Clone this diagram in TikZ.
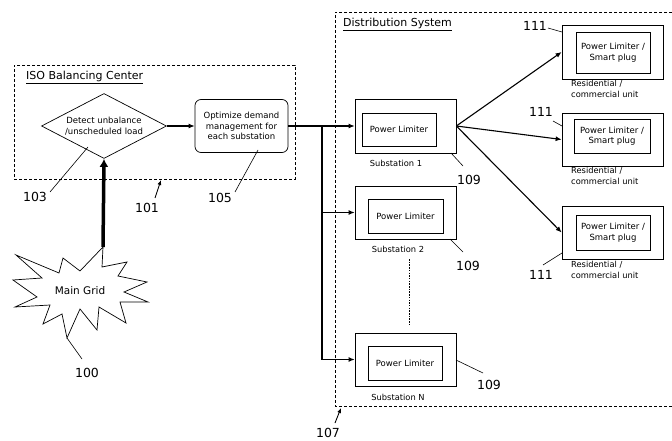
\documentclass[tikz,border=0pt]{standalone}
\usepackage{fontspec}
\setmainfont{DejaVu Sans}
\usetikzlibrary{arrows.meta,shapes.geometric}
\tikzstyle{box}=[draw,line width=0.7pt,inner sep=0pt,font=\fontsize{8.5}{10.5}\selectfont,align=center]
\tikzstyle{station}=[box,minimum width=101pt,minimum height=53pt]
\tikzstyle{limiter}=[box,minimum width=74pt,minimum height=34pt]
\tikzstyle{sublabel}=[inner sep=0pt,font=\fontsize{8.3}{10.5}\selectfont,align=left]
\tikzstyle{refnum}=[inner sep=0pt,font=\fontsize{12.5}{14}\selectfont]
\tikzstyle{heading}=[inner sep=0pt,font=\fontsize{11}{13}\selectfont]
\tikzstyle{region}=[draw,line width=0.6pt,dash pattern=on 3pt off 2pt,inner sep=0pt]
\tikzstyle{edge}=[draw,line width=1.1pt,-{Latex[length=6pt,width=5pt]}]
\tikzstyle{lead}=[draw,line width=0.6pt]
\tikzstyle{pointer}=[draw,line width=0.9pt,-{Latex[length=5pt,width=4pt]}]

\begin{document}
\begin{tikzpicture}[x=1pt,y=-1pt]
\useasboundingbox (0,0) rectangle (672,441);

% ISO balancing center
\node[region,minimum width=281pt,minimum height=114pt] (iso) at (154.5,122) {};
\node[heading,anchor=west] (isotitle) at (26,77) {\underline{ISO Balancing Center}};
\node[box,diamond,shape aspect=2,minimum width=125pt,minimum height=65pt] (detect) at (104,126) {Detect unbalance\\/unscheduled load};
\node[box,rounded corners=6pt,minimum width=93pt,minimum height=53pt] (opt) at (241.5,126) {Optimize demand\\management for\\each substation};
\path[edge] (detect.east) -- (opt.west);

% main grid
\draw[line width=0.7pt] (103,247) -- (102,267) -- (127,262) -- (118,276) -- (147,282)
  -- (124,292) -- (148,302) -- (120,302) -- (126,323) -- (99,307) -- (97,330)
  -- (80,309) -- (67,338) -- (62,314) -- (43,324) -- (50,305) -- (15,307)
  -- (37,297) -- (13,280) -- (42,278) -- (16,255) -- (59,273) -- (63,258)
  -- (80,271) -- cycle;
\coordinate (gridtop) at (103,247);
\node[inner sep=0pt,font=\fontsize{10.5}{12}\selectfont] (grid) at (80,291) {Main Grid};
\path[draw,line width=3.5pt,-{Latex[length=8pt,width=9pt]}] (gridtop) -- (detect.south);

% distribution system
\draw[region] (672,12) -- (335,12) -- (335,406) -- (672,406);
\node[heading,anchor=west] (dstitle) at (343,24) {\underline{Distribution System}};

\node[station,minimum height=54pt] (sub1) at (405.5,126) {};
\node[limiter,minimum height=33pt] (pl1) at (399,129.5) {Power Limiter};
\node[sublabel] (s1name) at (396,163) {Substation 1};

\node[station] (sub2) at (405.5,212.5) {};
\node[limiter,minimum width=75pt] (pl2) at (405.5,216) {Power Limiter};
\node[sublabel] (s2name) at (398,249) {Substation 2};

\node[station] (subN) at (405.5,359.5) {};
\node[limiter] (plN) at (405,363) {Power Limiter};
\node[sublabel] (sNname) at (398,397) {Substation N};

\coordinate (dots1) at (409,259);
\coordinate (dots2) at (409,326);
\draw[line width=0.6pt,dash pattern=on 1.5pt off 1.2pt] (dots1) -- (dots2);

% feeders
\coordinate (split) at (322,126);
\path[edge] (opt.east) -- (sub1.west);
\draw[line width=1.1pt] (split) -- (split |- subN.west);
\path[edge] (split |- sub2.west) -- (sub2.west);
\path[edge] (split |- subN.west) -- (subN.west);

% residential / commercial units
\node[station,minimum height=54pt] (res1) at (612.5,52) {};
\node[limiter,minimum height=41pt] (plug1) at (613,52.5) {Power Limiter /\\Smart plug};
\node[sublabel,anchor=north west] (r1name) at (571,80) {Residential /\\commercial unit};

\node[station] (res2) at (612.5,139.5) {};
\node[limiter,minimum width=76pt] (plug2) at (612,136) {Power Limiter /\\Smart plug};
\node[sublabel,anchor=north west] (r2name) at (571,167) {Residential /\\commercial unit};

\node[station] (res3) at (612.5,232.5) {};
\node[limiter,minimum height=35pt] (plug3) at (613,232.5) {Power Limiter /\\Smart plug};
\node[sublabel,anchor=north west] (r3name) at (571,261) {Residential /\\commercial unit};

\path[edge] (sub1.east) -- (res1.west);
\path[edge] (sub1.east) -- (res2.west);
\path[edge] (sub1.east) -- (res3.west);

% reference numerals
\node[refnum] (n100) at (87,373) {100};
\coordinate (p100) at (67,338);
\coordinate (e100) at (82,359);
\path[lead] (p100) -- (e100);

\node[refnum] (n101) at (147,208) {101};
\coordinate (p101) at (161,180);
\coordinate (e101) at (155,198);
\path[pointer] (e101) -- (p101);

\node[refnum] (n103) at (35,197) {103};
\coordinate (p103) at (88,147);
\coordinate (e103) at (50,192);
\path[lead] (p103) -- (e103);

\node[refnum] (n105) at (220,198) {105};
\coordinate (p105) at (258,150);
\coordinate (e105) at (235,192);
\path[lead] (p105) -- (e105);

\node[refnum] (n107) at (328,433) {107};
\coordinate (p107) at (341,408);
\coordinate (e107) at (335,423);
\path[pointer] (e107) -- (p107);

\node[refnum] (n109a) at (469,180) {109};
\coordinate (p109a) at (451,153);
\coordinate (e109a) at (463,166);
\path[lead] (p109a) -- (e109a);

\node[refnum] (n109b) at (468,266) {109};
\coordinate (p109b) at (450,239);
\coordinate (e109b) at (463,252);
\path[lead] (p109b) -- (e109b);

\node[refnum] (n109c) at (489,385) {109};
\coordinate (p109c) at (456,360);
\coordinate (e109c) at (483,373);
\path[lead] (p109c) -- (e109c);

\node[refnum] (n111a) at (535,26) {111};
\coordinate (p111a) at (562,32);
\coordinate (e111a) at (548,28);
\path[lead] (e111a) -- (p111a);

\node[refnum] (n111b) at (541,112) {111};
\coordinate (p111b) at (562,126);
\coordinate (e111b) at (553,121);
\path[lead] (e111b) -- (p111b);

\node[refnum] (n111c) at (541,275) {111};
\coordinate (p111c) at (562,253);
\coordinate (e111c) at (543,265);
\path[lead] (e111c) -- (p111c);
\end{tikzpicture}
\end{document}
